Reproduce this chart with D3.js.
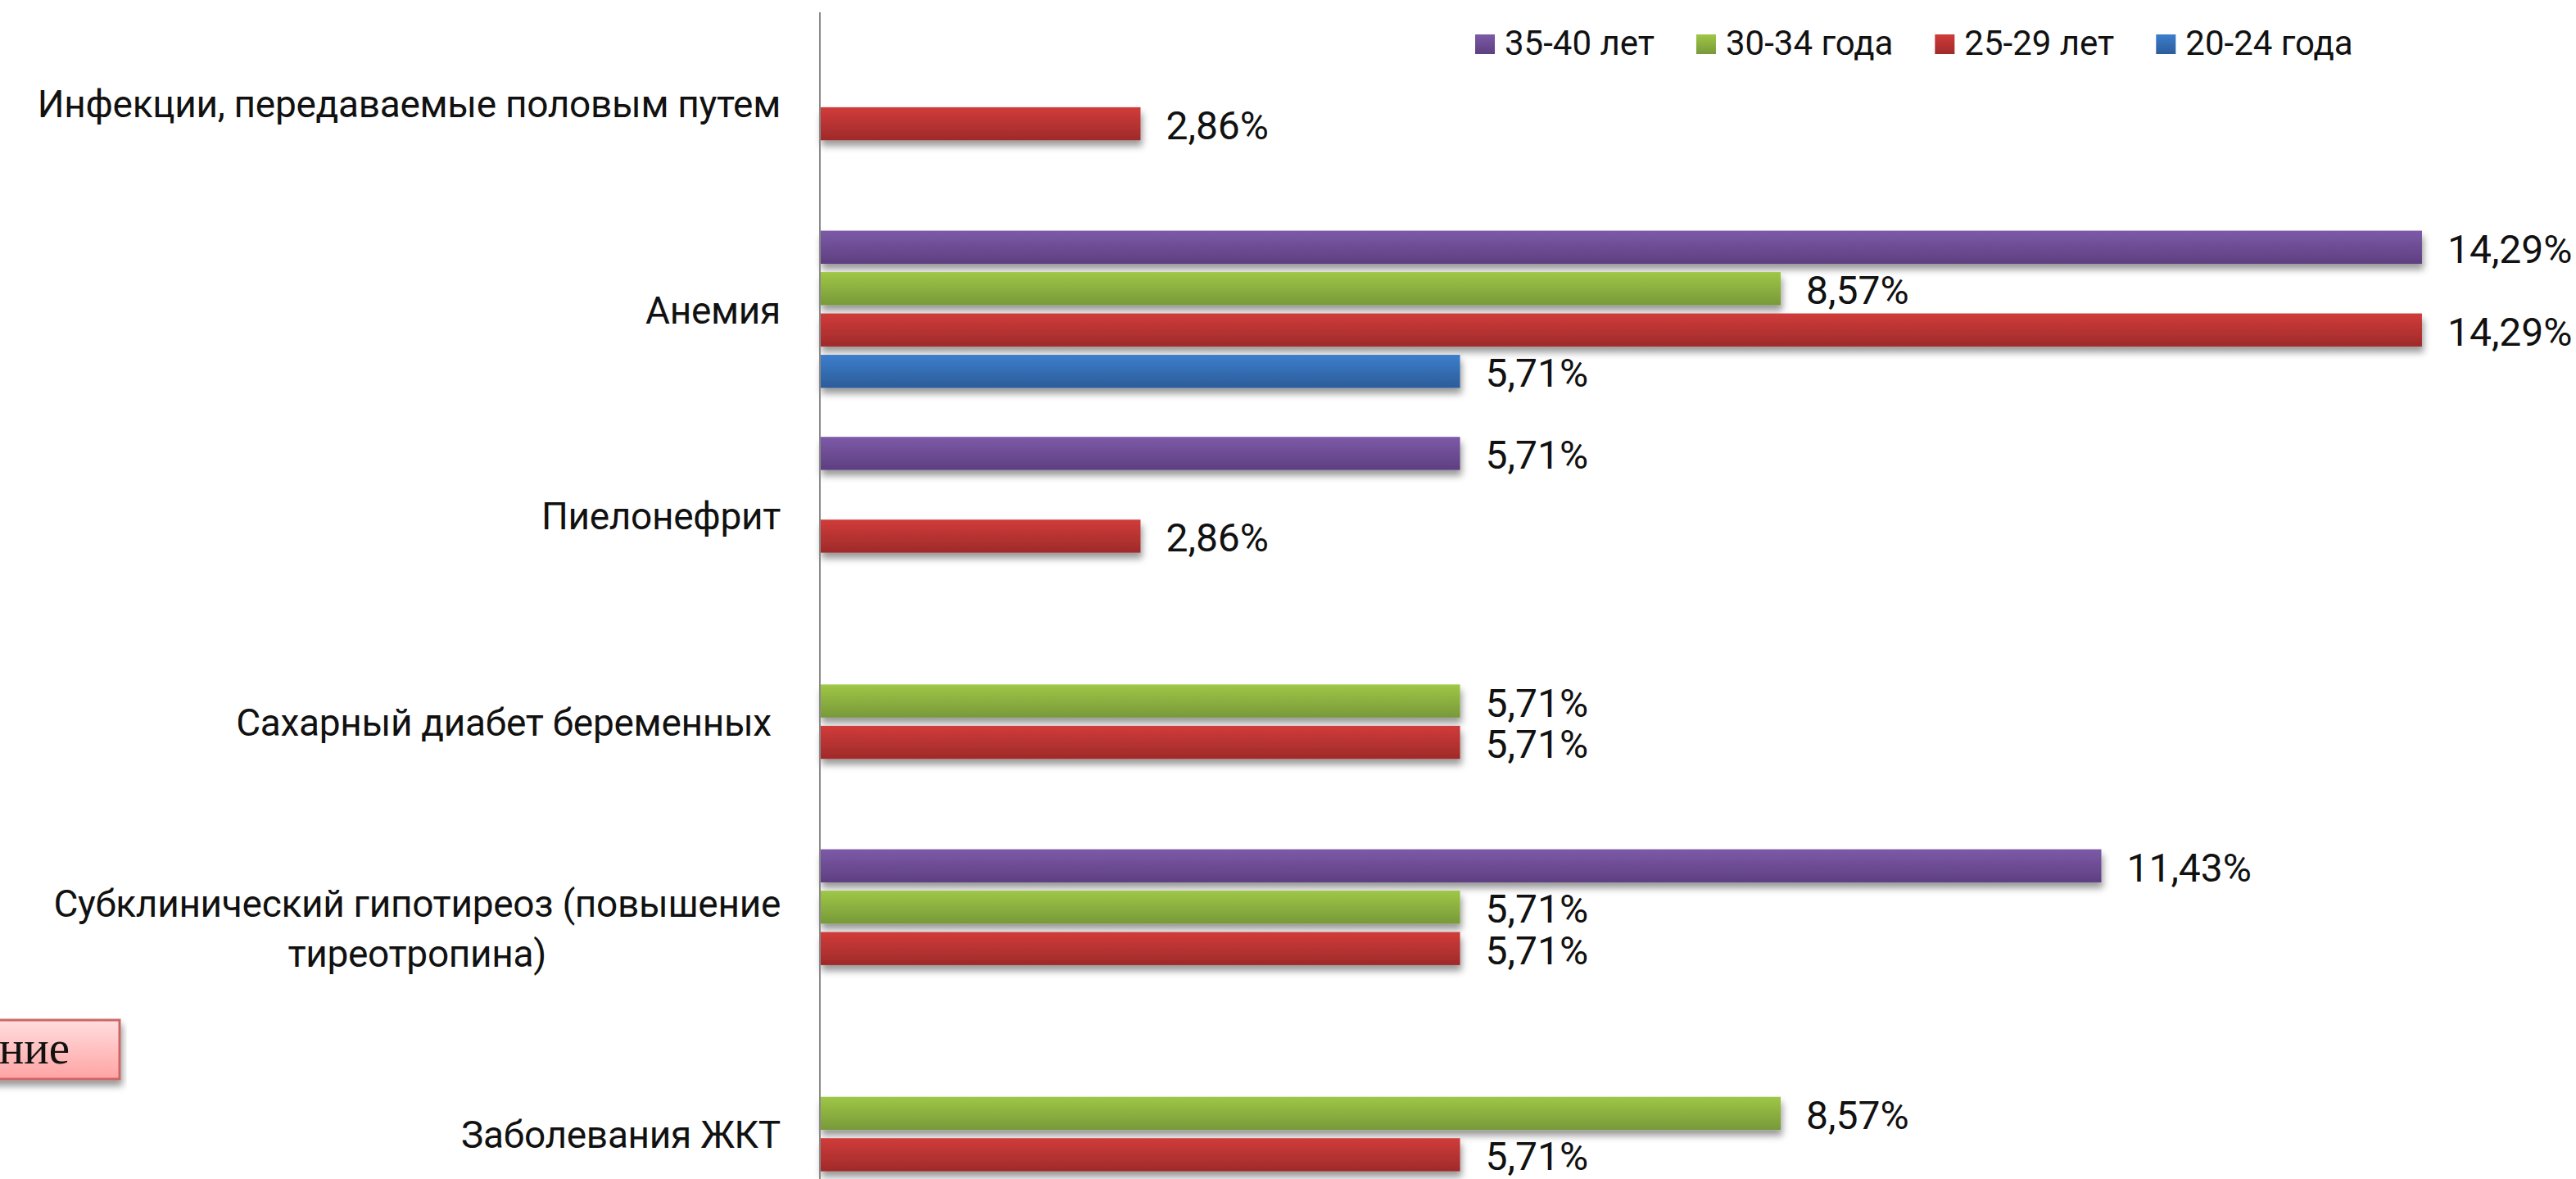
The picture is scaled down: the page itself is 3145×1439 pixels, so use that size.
<!DOCTYPE html>
<html><head><meta charset="utf-8">
<script src="https://cdn.jsdelivr.net/npm/d3@7"></script>
<style>
html,body{margin:0;padding:0;background:#fff;overflow:hidden;}
svg{display:block;}
text{font-family:Roboto,"Noto Sans",sans-serif;fill:#111;}
</style></head>
<body>
<svg id="chart" width="3145" height="1439"></svg>
<script>
// ---- data ----
const categories = [
  "Инфекции, передаваемые половым путем",
  "Анемия",
  "Пиелонефрит",
  "Сахарный диабет беременных ",
  "Субклинический гипотиреоз (повышение тиреотропина)",
  "Заболевания ЖКТ"
];
const seriesNames = ["35-40 лет", "30-34 года", "25-29 лет", "20-24 года"];
const s35_40 = [null, 14.29, 5.71, null, 11.43, null];
const s30_34 = [null, 8.57, null, 5.71, 5.71, 8.57];
const s25_29 = [2.86, 14.29, 2.86, 5.71, 5.71, 5.71];
const s20_24 = [null, 5.71, null, null, null, null];
const seriesValues = [s35_40, s30_34, s25_29, s20_24];
const seriesColors = [
  ["#7c5aa8", "#5e3f80"],
  ["#9fc746", "#77993a"],
  ["#d03c3a", "#9f2a2a"],
  ["#3c7ecd", "#2c5c99"]
];
const legendLabels = seriesNames;
const boxText = "ние";

// ---- scales ----
const svg = d3.select("#chart");
const x = d3.scaleLinear().domain([0, 16]).range([1001, 3191]);
const y0 = d3.scaleBand().domain(categories).range([0, 1510]);
const y1 = d3.scaleBand().domain(seriesNames).range([0, y0.bandwidth()])
  .paddingInner(0.2).paddingOuter(0.592);

const defs = svg.append("defs");
seriesColors.forEach((c, i) => {
  const g = defs.append("linearGradient").attr("id", "grad" + i)
    .attr("x1", 0).attr("y1", 0).attr("x2", 0).attr("y2", 1);
  g.append("stop").attr("offset", "0%").attr("stop-color", c[0]);
  g.append("stop").attr("offset", "100%").attr("stop-color", c[1]);
});
const f = defs.append("filter").attr("id", "shadow")
  .attr("x", "-5%").attr("y", "-50%").attr("width", "110%").attr("height", "220%");
f.append("feDropShadow").attr("dx", 2).attr("dy", 7).attr("stdDeviation", 4)
  .attr("flood-color", "#000").attr("flood-opacity", 0.4);
const bg = defs.append("linearGradient").attr("id", "boxgrad")
  .attr("x1", 0).attr("y1", 0).attr("x2", 0).attr("y2", 1);
bg.append("stop").attr("offset", "0%").attr("stop-color", "#ffdede");
bg.append("stop").attr("offset", "100%").attr("stop-color", "#ffa3a3");

// ---- bars ----
const rows = [];
categories.forEach((cat, ci) => {
  seriesNames.forEach((s, si) => {
    const v = seriesValues[si][ci];
    if (v != null) rows.push({cat, s, si, v});
  });
});

const gBars = svg.append("g");
gBars.selectAll("rect").data(rows).join("rect")
  .attr("x", x(0))
  .attr("y", d => y0(d.cat) + y1(d.s))
  .attr("width", d => x(d.v) - x(0))
  .attr("height", y1.bandwidth())
  .attr("fill", d => `url(#grad${d.si})`)
  .attr("filter", "url(#shadow)");

gBars.selectAll("text").data(rows).join("text")
  .attr("x", d => x(d.v) + 31)
  .attr("y", d => y0(d.cat) + y1(d.s) + y1.bandwidth() / 2 + 19)
  .attr("font-size", 48)
  .text(d => d.v.toFixed(2).replace(".", ",") + "%");

// ---- axis line ----
svg.append("line").attr("x1", x(0)).attr("x2", x(0))
  .attr("y1", 15).attr("y2", 1439)
  .attr("stroke", "#8a8a8a").attr("stroke-width", 2);

// ---- category labels ----
const gCat = svg.append("g");
const labelRight = 953, maxW = 960, fs = 46, lh = 61;
categories.forEach(cat => {
  const cy = y0(cat) + y0.bandwidth() / 2;
  const words = cat.split(" ");
  const lines = [];
  let cur = "";
  const probe = gCat.append("text").attr("font-size", fs)
    .attr("letter-spacing", -0.3).style("white-space", "pre");
  words.forEach(w => {
    const test = cur ? cur + " " + w : w;
    probe.text(test);
    if (probe.node().getComputedTextLength() > maxW && cur) { lines.push(cur); cur = w; }
    else cur = test;
  });
  lines.push(cur);
  probe.remove();
  const tmp = lines.map(l => gCat.append("text").attr("font-size", fs)
    .attr("letter-spacing", -0.3).style("white-space", "pre").text(l));
  const ws = tmp.map(tt => tt.node().getComputedTextLength());
  const blockW = d3.max(ws);
  const blockCenter = labelRight - blockW / 2;
  const n = lines.length;
  tmp.forEach((tt, i) => {
    tt.attr("text-anchor", n > 1 ? "middle" : "end")
      .attr("x", n > 1 ? blockCenter : labelRight)
      .attr("y", cy + 17 + (i - (n - 1) / 2) * lh);
  });
});

// ---- legend ----
const gLeg = svg.append("g");
let lx = 1801;
legendLabels.forEach((name, i) => {
  gLeg.append("rect").attr("x", lx).attr("y", 42).attr("width", 24).attr("height", 24)
    .attr("fill", `url(#grad${i})`);
  const tt = gLeg.append("text").attr("x", lx + 36).attr("y", 67)
    .attr("font-size", 42).text(name);
  lx += 36 + tt.node().getComputedTextLength() + 51;
});

// ---- partial box at left ----
const gBox = svg.append("g");
gBox.append("rect").attr("x", -20).attr("y", 1245).attr("width", 166).attr("height", 72)
  .attr("fill", "url(#boxgrad)").attr("stroke", "#cc6666").attr("stroke-width", 3)
  .attr("filter", "url(#shadow)");
gBox.append("text").attr("x", 85).attr("y", 1298).attr("text-anchor", "end")
  .attr("font-size", 57).style("font-family", "'Liberation Serif','Times New Roman',serif")
  .text(boxText);
</script>
</body></html>
